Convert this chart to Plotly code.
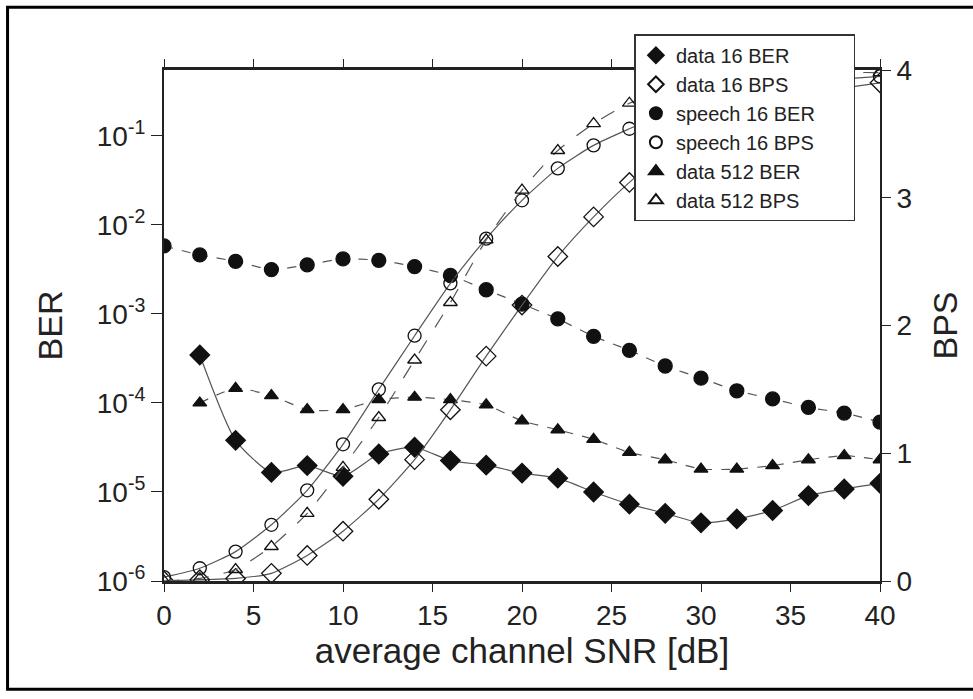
import plotly.graph_objects as go

snr = [0, 2, 4, 6, 8, 10, 12, 14, 16, 18, 20, 22, 24, 26, 28, 30, 32, 34, 36, 38, 40]
snr_from2 = snr[1:]

# BER (left, log axis)
data16_ber = [3.46e-4, 3.8e-5, 1.66e-5, 1.98e-5, 1.5e-5, 2.67e-5, 3.18e-5, 2.25e-5, 2.0e-5, 1.63e-5,
              1.43e-5, 1.0e-5, 7.3e-6, 5.75e-6, 4.5e-6, 4.98e-6, 6.2e-6, 9.1e-6, 1.08e-5, 1.25e-5]
speech16_ber = [5.8e-3, 4.6e-3, 3.9e-3, 3.15e-3, 3.56e-3, 4.15e-3, 4.0e-3, 3.4e-3, 2.7e-3, 1.87e-3,
                1.29e-3, 8.8e-4, 5.6e-4, 3.9e-4, 2.6e-4, 1.9e-4, 1.37e-4, 1.11e-4, 8.9e-5, 7.7e-5, 6.1e-5]
data512_ber = [1.0e-4, 1.46e-4, 1.21e-4, 8.4e-5, 8.4e-5, 1.09e-4, 1.16e-4, 1.09e-4, 9.5e-5, 6.3e-5,
               5.0e-5, 3.9e-5, 2.78e-5, 2.3e-5, 1.81e-5, 1.81e-5, 1.98e-5, 2.3e-5, 2.56e-5, 2.3e-5]

# BPS (right axis)
data16_bps = [0.0, 0.01, 0.02, 0.06, 0.2, 0.39, 0.64, 0.95, 1.34, 1.76, 2.16, 2.54, 2.85, 3.12,
              3.35, 3.52, 3.65, 3.75, 3.82, 3.86, 3.9]
speech16_bps = [0.03, 0.1, 0.23, 0.44, 0.71, 1.07, 1.5, 1.92, 2.33, 2.68, 2.98, 3.23, 3.41, 3.54,
                3.66, 3.75, 3.82, 3.87, 3.91, 3.93, 3.95]
data512_bps = [0.0, 0.02, 0.09, 0.27, 0.53, 0.89, 1.28, 1.73, 2.18, 2.67, 3.06, 3.37, 3.58, 3.74,
               3.84, 3.9, 3.94, 3.96, 3.97, 3.98, 3.98]

ber_tickvals = [1e-6, 1e-5, 1e-4, 1e-3, 1e-2, 1e-1]
ber_ticktext = ["10<sup>-6</sup>", "10<sup>-5</sup>", "10<sup>-4</sup>", "10<sup>-3</sup>",
                "10<sup>-2</sup>", "10<sup>-1</sup>"]
bps_tickvals = [0, 1, 2, 3, 4]
x_tickvals = [0, 5, 10, 15, 20, 25, 30, 35, 40]

FONT = "Liberation Sans, Arial, Helvetica, sans-serif"
INK = "#222222"
LINE = "#555555"
PAD = "\u00a0" * 6

fig = go.Figure()


def add(name, x, y, symbol, size, axis, dash):
    # connecting line (not in legend)
    fig.add_trace(go.Scatter(
        x=x, y=y, mode="lines", yaxis=axis, showlegend=False, hoverinfo="skip",
        line=dict(color=LINE, width=1.2, dash=dash, shape="spline", smoothing=0.6),
    ))
    # markers (legend shows markers only)
    fig.add_trace(go.Scatter(
        x=x, y=y, name=name + PAD, mode="markers", yaxis=axis,
        marker=dict(symbol=symbol, size=size, color="#111111",
                    line=dict(color="#111111", width=1.3)),
    ))


add("data 16 BER", snr_from2, data16_ber, "diamond", 15, "y", "solid")
add("data 16 BPS", snr, data16_bps, "diamond-open", 15, "y2", "solid")
add("speech 16 BER", snr, speech16_ber, "circle", 14, "y", "dash")
add("speech 16 BPS", snr, speech16_bps, "circle-open", 13, "y2", "solid")
add("data 512 BER", snr_from2, data512_ber, "triangle-up", 12, "y", "dash")
add("data 512 BPS", snr, data512_bps, "triangle-up-open", 12, "y2", "longdash")

fig.update_layout(
    width=973, height=699,
    margin=dict(l=164, r=93, t=70, b=118),
    paper_bgcolor="white", plot_bgcolor="white",
    font=dict(family=FONT, color=INK, size=28),
    showlegend=True,
    legend=dict(
        x=0.657, y=1.07, xanchor="left", yanchor="top",
        bgcolor="white", bordercolor="#333333", borderwidth=1.5,
        font=dict(family=FONT, size=20, color=INK),
        tracegroupgap=0, itemwidth=30, itemsizing="constant",
    ),
    xaxis=dict(
        range=[0, 40], tickvals=x_tickvals, ticks="outside", ticklen=8, tickwidth=1.2,
        tickcolor=INK, showline=True, linewidth=2.5, linecolor=INK, mirror="ticks",
        showgrid=False, zeroline=False,
        tickfont=dict(size=28, family=FONT, color=INK),
        title=dict(text="average channel SNR [dB]", font=dict(size=35, family=FONT, color=INK),
                   standoff=6),
    ),
    yaxis=dict(
        type="log", range=[-6, -0.26], tickvals=ber_tickvals, ticktext=ber_ticktext,
        ticks="outside", ticklen=11, tickwidth=1.2, tickcolor=INK,
        showline=True, linewidth=2, linecolor=INK, showgrid=False, zeroline=False,
        tickfont=dict(size=28, family=FONT, color=INK),
        title=dict(text="BER", font=dict(size=34, family=FONT, color=INK), standoff=24),
    ),
    yaxis2=dict(
        range=[0, 4.0], tickvals=bps_tickvals, overlaying="y", side="right",
        ticks="outside", ticklen=9, tickwidth=1.2, tickcolor=INK,
        showline=True, linewidth=2, linecolor=INK, showgrid=False, zeroline=False,
        tickfont=dict(size=28, family=FONT, color=INK),
        title=dict(text="BPS", font=dict(size=34, family=FONT, color=INK), standoff=22),
    ),
    shapes=[dict(type="rect", xref="paper", yref="paper",
                 x0=-0.2185, x1=1.17, y0=-0.212, y1=1.123,
                 line=dict(color="black", width=3), fillcolor="rgba(0,0,0,0)", layer="below")],
)

fig.write_html("out.html")
